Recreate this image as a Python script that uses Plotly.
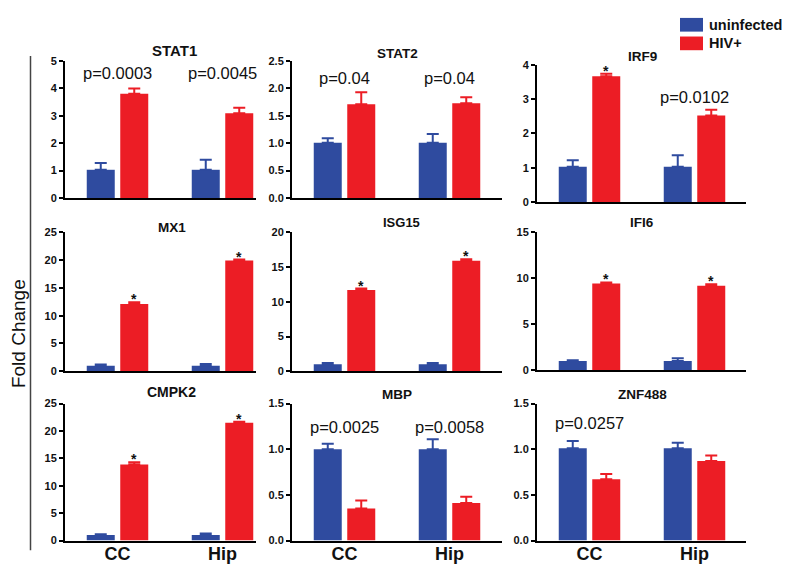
import plotly.graph_objects as go

# ---------------- data ----------------
genes = ["STAT1", "STAT2", "IRF9", "MX1", "ISG15", "IFI6", "CMPK2", "MBP", "ZNF488"]
regions = ["CC", "Hip"]
series_names = ["uninfected", "HIV+"]

uninf_cc = [1.03, 1.01, 1.03, 1.0, 1.0, 1.0, 1.0, 1.0, 1.01]
uninf_cc_err = [0.25, 0.08, 0.19, 0.2, 0.2, 0.1, 0.15, 0.06, 0.08]
uninf_hip = [1.03, 1.01, 1.03, 1.0, 1.0, 1.0, 1.0, 1.0, 1.01]
uninf_hip_err = [0.37, 0.16, 0.33, 0.3, 0.2, 0.3, 0.3, 0.11, 0.06]
hiv_cc = [3.80, 1.71, 3.67, 12.1, 11.7, 9.43, 13.9, 0.35, 0.67]
hiv_cc_err = [0.20, 0.22, 0.07, 0.3, 0.2, 0.12, 0.4, 0.09, 0.06]
hiv_hip = [3.09, 1.73, 2.52, 19.9, 15.9, 9.18, 21.5, 0.41, 0.87]
hiv_hip_err = [0.20, 0.11, 0.17, 0.2, 0.2, 0.18, 0.2, 0.07, 0.06]

y_max = [5, 2.5, 4, 25, 20, 15, 25, 1.5, 1.5]
y_dtick = [1, 0.5, 1, 5, 5, 5, 5, 0.5, 0.5]
y_fmt = ["d", ".1f", "d", "d", "d", "d", "d", ".1f", ".1f"]

label_cc = ["p=0.0003", "p=0.04", "*", "*", "*", "*", "*", "p=0.0025", "p=0.0257"]
label_hip = ["p=0.0045", "p=0.04", "p=0.0102", "*", "*", "*", "*", "p=0.0058", ""]

# ---------------- styling / layout ----------------
W, H = 790, 565
BLUE = "#2F4B9F"
RED = "#EC1D25"
FONT = "Arial, Liberation Sans, sans-serif"
BARGAP = 0.362
BARGROUPGAP = 0.164

col_px = [(57, 248), (284, 494), (529, 738)]
row_px = [[(48, 188), (48, 188), (52, 192)],
          [(223, 365), (223, 365), (223, 364)],
          [(398, 538), (398, 538), (398, 538)]]
title_px = [(166, 37), (389, 40), (634, 43),
            (164, 218), (393, 213), (634, 213),
            (163, 386), (389, 389), (634, 389)]
title_size = [15, 13.5, 13.5, 13.5, 13, 13.5, 14, 13.5, 13.5]
p_offset_px = [12, 17, 33, 0, 0, 0, 0, 24, 20]
PX_PER_CAT = 105


def fx(x):
    return x / W


def fy(y):
    return 1 - y / H


fig = go.Figure()
annotations = []
layout_axes = {}

for i, gene in enumerate(genes):
    r, c = divmod(i, 3)
    n = i + 1
    xa = "x" if n == 1 else f"x{n}"
    ya = "y" if n == 1 else f"y{n}"
    xkey = "xaxis" if n == 1 else f"xaxis{n}"
    ykey = "yaxis" if n == 1 else f"yaxis{n}"

    fig.add_trace(go.Bar(
        x=regions, y=[uninf_cc[i], uninf_hip[i]], name=series_names[0],
        marker=dict(color=BLUE, line=dict(width=0)),
        error_y=dict(type="data", symmetric=False,
                     array=[uninf_cc_err[i], uninf_hip_err[i]], arrayminus=[0, 0],
                     color=BLUE, thickness=2, width=6),
        xaxis=xa, yaxis=ya, showlegend=False, hoverinfo="skip"))
    fig.add_trace(go.Bar(
        x=regions, y=[hiv_cc[i], hiv_hip[i]], name=series_names[1],
        marker=dict(color=RED, line=dict(width=0)),
        error_y=dict(type="data", symmetric=False,
                     array=[hiv_cc_err[i], hiv_hip_err[i]], arrayminus=[0, 0],
                     color=RED, thickness=2, width=6),
        xaxis=xa, yaxis=ya, showlegend=False, hoverinfo="skip"))

    x0, x1 = col_px[c]
    y0, y1 = row_px[r][c]
    xr = [-0.5, -0.5 + (x1 - x0) / PX_PER_CAT]
    layout_axes[xkey] = dict(
        domain=[fx(x0), fx(x1)], anchor=ya, type="category",
        categoryorder="array", categoryarray=regions, range=xr,
        showline=True, linecolor="black", linewidth=2,
        ticks="", showgrid=False, zeroline=False,
        showticklabels=(r == 2), ticklabelstandoff=-4,
        tickfont=dict(family=FONT, size=18, color="#111", weight="bold"),
        fixedrange=True)
    layout_axes[ykey] = dict(
        domain=[fy(y1), fy(y0)], anchor=xa,
        range=[0, y_max[i]], tickmode="linear", tick0=0, dtick=y_dtick[i],
        tickformat=y_fmt[i],
        showline=True, linecolor="black", linewidth=2,
        ticks="outside", ticklen=4, tickwidth=2, tickcolor="black",
        showgrid=False, zeroline=False,
        tickfont=dict(family=FONT, size=11, color="#111", weight="bold"),
        fixedrange=True)

    # panel title
    tx, ty = title_px[i]
    annotations.append(dict(
        x=fx(tx), y=fy(ty), xref="paper", yref="paper",
        text=f"<b>{gene}</b>", showarrow=False, xanchor="center", yanchor="middle",
        font=dict(family=FONT, size=title_size[i], color="#111")))

    # significance labels
    red_off = (1 - BARGAP) / 4
    height = y1 - y0
    for j, (lab, top) in enumerate([(label_cc[i], hiv_cc[i] + hiv_cc_err[i]),
                                    (label_hip[i], hiv_hip[i] + hiv_hip_err[i])]):
        if not lab:
            continue
        if lab == "*":
            annotations.append(dict(
                x=j + red_off, y=top, xref=xa, yref=ya, text="<b>*</b>",
                showarrow=False, xanchor="center", yanchor="middle", yshift=3,
                font=dict(family=FONT, size=14, color="#111")))
        else:
            annotations.append(dict(
                x=j, y=1 - p_offset_px[i] / height, xref=xa, yref=f"{ya} domain",
                text=lab, showarrow=False, xanchor="center", yanchor="middle",
                font=dict(family=FONT, size=16.5, color="#111")))

# y-axis label
annotations.append(dict(
    x=fx(10), y=fy(327), xref="paper", yref="paper", text="Fold Change",
    textangle=-90, showarrow=False, xanchor="center", yanchor="middle",
    font=dict(family=FONT, size=19, color="#111")))

# legend (manual)
shapes = [
    dict(type="line", xref="paper", yref="paper", x0=fx(22.5), x1=fx(22.5),
         y0=fy(43), y1=fy(548), line=dict(color="#444", width=1.5)),
    dict(type="rect", xref="paper", yref="paper", x0=fx(672), x1=fx(695),
         y0=fy(18), y1=fy(4), fillcolor=BLUE, line=dict(width=0)),
    dict(type="rect", xref="paper", yref="paper", x0=fx(672), x1=fx(695),
         y0=fy(37), y1=fy(23), fillcolor=RED, line=dict(width=0)),
]
for name, ycen in zip(series_names, [11, 30]):
    annotations.append(dict(
        x=fx(699), y=fy(ycen), xref="paper", yref="paper", text=f"<b>{name}</b>",
        showarrow=False, xanchor="left", yanchor="middle",
        font=dict(family=FONT, size=14.5, color="#111")))

fig.update_layout(
    width=W, height=H, autosize=False,
    margin=dict(l=0, r=0, t=0, b=0, pad=0),
    paper_bgcolor="white", plot_bgcolor="white",
    barmode="group", bargap=BARGAP, bargroupgap=BARGROUPGAP,
    showlegend=False,
    annotations=annotations, shapes=shapes,
    **layout_axes)

fig.write_html("out.html")
